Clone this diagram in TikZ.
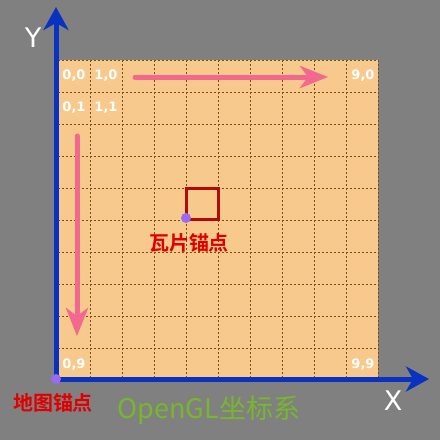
\documentclass[tikz,border=0pt]{standalone}
\usepackage{fontspec}
\setsansfont{DejaVu Sans}
\newfontfamily\cjk{Noto Sans CJK SC}
\newfontfamily\cjkb{Noto Sans CJK SC Bold}
\usetikzlibrary{arrows.meta}
\definecolor{bggray}{HTML}{808080}
\definecolor{tile}{HTML}{F8C98C}
\definecolor{gridc}{HTML}{7A4A1A}
\definecolor{axisblue}{HTML}{0A32C0}
\definecolor{pinkc}{HTML}{F2688F}
\definecolor{sqred}{HTML}{B00A0A}
\definecolor{txtred}{HTML}{E00000}
\definecolor{glgreen}{HTML}{76B82A}
\definecolor{dotpurple}{HTML}{9A6AF0}
\tikzset{
  cell/.style={text=white, font=\sffamily\bfseries\fontsize{13}{13}\selectfont, inner sep=0pt},
  axislab/.style={text=white, font=\sffamily\fontsize{27}{27}\selectfont, inner sep=0pt},
  axisline/.style={draw=axisblue, line width=5pt, -{Stealth[width=25pt,length=23pt,inset=7pt]}},
  pinkarrow/.style={draw=pinkc, line width=5pt, line cap=round, -{Stealth[width=22pt,length=28pt,inset=8pt]}},
  anchordot/.style={circle, fill=dotpurple, minimum size=10pt, inner sep=0pt},
  redlab/.style={text=txtred, font=\cjkb\fontsize{20}{20}\selectfont, inner sep=0pt},
}
\begin{document}
\begin{tikzpicture}[x=1pt,y=-1pt]
\useasboundingbox (0,0) rectangle (440,440);
\fill[bggray] (0,0) rectangle (440,440);
% tile area
\fill[tile] (58,60) rectangle (378,380);
\foreach \i in {1,...,9} {
  \draw[gridc, line width=0.8pt, dash pattern=on 2pt off 2pt] (58+32*\i,60) -- (58+32*\i,380);
  \draw[gridc, line width=0.8pt, dash pattern=on 2pt off 2pt] (58,60+32*\i) -- (378,60+32*\i);
}
\draw[gridc, line width=0.8pt, dash pattern=on 2pt off 2pt] (58,60) -- (378,60) -- (378,380);
% axes
\coordinate (O) at (56,379);
\coordinate (Ytip) at (56,7);
\coordinate (Xtip) at (429,379);
\draw[axisline] (56,381.5) -- (Ytip);
\draw[axisline] (53.5,379) -- (Xtip);
\node[axislab] (ylab) at (33,38) {Y};
\node[axislab] (xlab) at (393,401) {X};
% cell labels
\node[cell] (c00) at (74,76) {0,0};
\node[cell] (c10) at (106,76) {1,0};
\node[cell] (c01) at (74,108) {0,1};
\node[cell] (c11) at (106,108) {1,1};
\node[cell] (c90) at (363,76) {9,0};
\node[cell] (c09) at (74,365) {0,9};
\node[cell] (c99) at (363,365) {9,9};
% pink arrows
\coordinate (hs) at (135,77);
\coordinate (he) at (328,77);
\coordinate (vs) at (77,136);
\coordinate (ve) at (77,336);
\draw[pinkarrow] (hs) -- (he);
\draw[pinkarrow] (vs) -- (ve);
% tile square
\draw[sqred, line width=3pt] (186,188) rectangle (218,219);
\node[anchordot] (tdot) at (186,218) {};
\node[redlab] (tlab) at (189,243) {瓦片锚点};
% map anchor
\node[anchordot] (mdot) at (O) {};
\node[redlab] (mlab) at (53,403) {地图锚点};
\node[text=glgreen, font=\cjk\fontsize{27}{27}\selectfont, inner sep=0pt] (gl) at (209,410) {OpenGL坐标系};
\end{tikzpicture}
\end{document}
